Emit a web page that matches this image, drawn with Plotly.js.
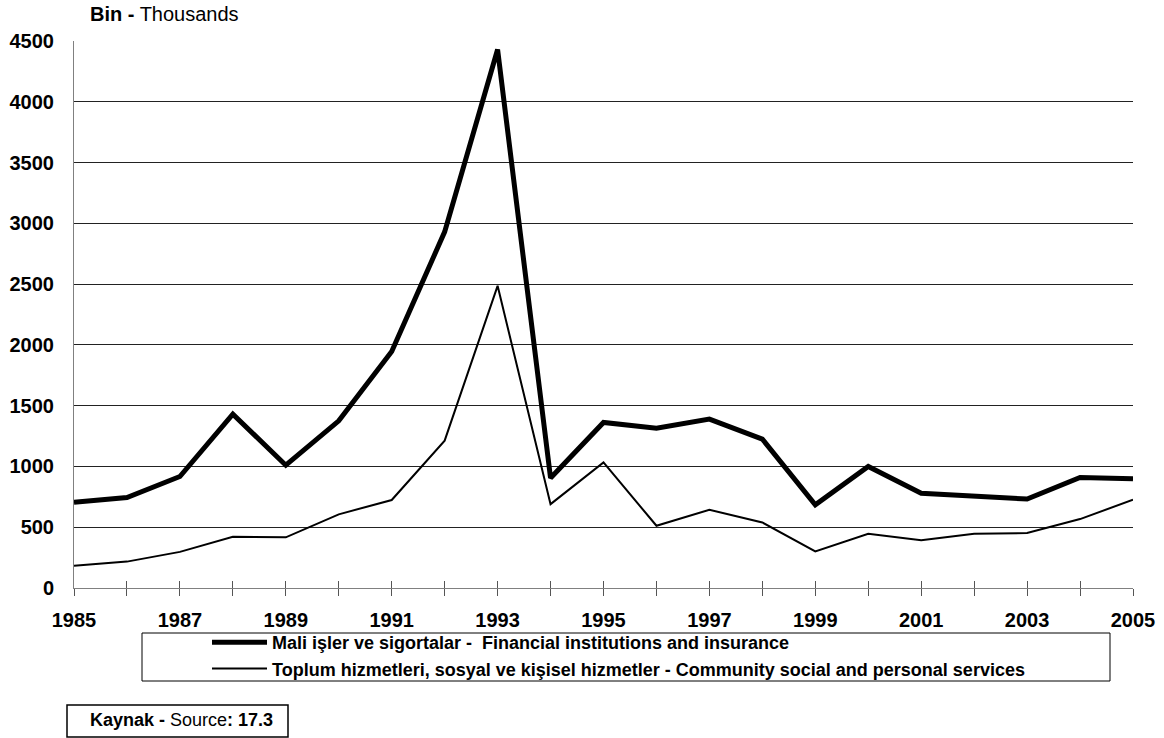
<!DOCTYPE html>
<html>
<head>
<meta charset="utf-8">
<script src="https://cdn.plot.ly/plotly-3.0.1.min.js"></script>
<style>html,body{margin:0;padding:0;background:#fff;}#chart{width:1164px;height:738px;}</style>
</head>
<body>
<div id="chart"></div>
<script>
const years = [1985,1986,1987,1988,1989,1990,1991,1992,1993,1994,1995,1996,1997,1998,1999,2000,2001,2002,2003,2004,2005];
const financial = [705,744,917,1430,1010,1375,1945,2930,4430,905,1362,1315,1390,1225,685,1000,779,752,732,909,899];
const community = [184,217,297,421,417,606,724,1212,2486,690,1033,512,644,539,301,446,393,446,452,567,726];
const financialName = "Mali işler ve sigortalar -  Financial institutions and insurance";
const communityName = "Toplum hizmetleri, sosyal ve kişisel hizmetler - Community social and personal services";
const yTicks = [0,500,1000,1500,2000,2500,3000,3500,4000,4500];
const xTickLabels = years.map(y => (y % 2 === 1) ? String(y) : "");

const FONT = "Liberation Sans, Arial, sans-serif";
const L = 74, R = 1133, T = 41, B = 588;
const W = R - L, H = B - T;
const px = v => (v - L) / W;
const py = v => (B - v) / H;

const traces = [
  {x: years, y: financial, name: financialName, type: 'scatter', mode: 'lines',
   line: {color: '#000', width: 5}},
  {x: years, y: community, name: communityName, type: 'scatter', mode: 'lines',
   line: {color: '#000', width: 2}},
  {x: years, y: community, xaxis: 'x2', type: 'scatter', mode: 'lines', showlegend: false,
   hoverinfo: 'skip', line: {color: 'rgba(0,0,0,0)', width: 0}}
];

const layout = {
  width: 1164, height: 738,
  margin: {l: L, r: 1164 - R, t: T, b: 738 - B},
  paper_bgcolor: '#fff', plot_bgcolor: '#fff',
  font: {family: FONT, color: '#000'},
  showlegend: true,
  xaxis: {
    range: [1985, 2005], tickvals: years, ticktext: xTickLabels,
    showgrid: false, zeroline: false, showline: true, linecolor: '#808080', linewidth: 1,
    ticks: 'outside', ticklen: 7, tickcolor: '#555', tickwidth: 1, ticklabelstandoff: 7,
    tickfont: {family: FONT, size: 20, color: '#000', weight: 'bold'}
  },
  xaxis2: {
    overlaying: 'x', matches: 'x', range: [1985, 2005], tickvals: years,
    showticklabels: false, showgrid: false, zeroline: false, showline: false,
    ticks: 'inside', ticklen: 7, tickcolor: '#555', tickwidth: 1, anchor: 'y'
  },
  yaxis: {
    range: [0, 4500], tickvals: yTicks, ticktext: yTicks.map(String),
    showgrid: true, gridcolor: '#222', gridwidth: 1,
    zeroline: false, showline: true, linecolor: '#808080', linewidth: 1,
    ticks: '', ticklabelstandoff: 15,
    tickfont: {family: FONT, size: 20, color: '#000', weight: 'bold'}
  },
  legend: {
    x: px(207), y: py(624), xanchor: 'left', yanchor: 'top',
    bgcolor: 'rgba(0,0,0,0)', borderwidth: 0,
    font: {family: FONT, size: 18, color: '#000', weight: 'bold'},
    itemwidth: 55, tracegroupgap: 0
  },
  shapes: [
    {type: 'rect', xref: 'paper', yref: 'paper',
     x0: px(142), x1: px(1110), y0: py(681), y1: py(633),
     line: {color: '#000', width: 1}, fillcolor: 'rgba(0,0,0,0)'},
    {type: 'rect', xref: 'paper', yref: 'paper',
     x0: px(67), x1: px(288), y0: py(737), y1: py(705),
     line: {color: '#000', width: 1.5}, fillcolor: 'rgba(0,0,0,0)'}
  ],
  annotations: [
    {xref: 'paper', yref: 'paper', x: px(88), y: py(14), xanchor: 'left', yanchor: 'middle',
     text: '<b>Bin -</b> Thousands', showarrow: false, font: {family: FONT, size: 20, color: '#000'}},
    {xref: 'paper', yref: 'paper', x: px(181), y: py(720), xanchor: 'center', yanchor: 'middle',
     text: '<b>Kaynak -</b> Source<b>: 17.3</b>', showarrow: false, font: {family: FONT, size: 18, color: '#000'}}
  ]
};

Plotly.newPlot('chart', traces, layout, {staticPlot: true, displayModeBar: false});
</script>
</body>
</html>
